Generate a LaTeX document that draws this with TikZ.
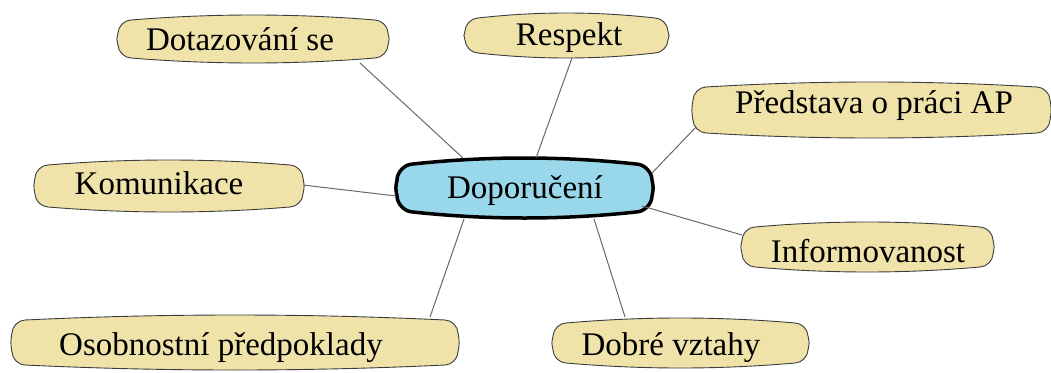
\documentclass[tikz,border=0pt]{standalone}
\usepackage{fontspec}
\setmainfont{Liberation Serif}
\usetikzlibrary{calc}
\definecolor{boxfill}{RGB}{239,227,170}
\definecolor{boxline}{RGB}{60,60,60}
\definecolor{mainfill}{RGB}{152,216,234}
\definecolor{conn}{RGB}{105,105,105}
\def\blobr{13pt}
\def\blobb{5pt}
\newcommand{\blob}[2]{%
  \path[#2] let \p1=(#1.south west), \p2=(#1.north east), \n1={(\x2-\x1-2*\blobr)/3} in
  (\x1,{\y1+\blobb+\blobr})
  .. controls ({\x1-1.5pt},{\y1+\blobb+\blobr+8pt}) and ({\x1-1.5pt},{\y2-\blobb-\blobr-8pt}) .. (\x1,{\y2-\blobb-\blobr})
  .. controls (\x1,{\y2-\blobb-0.5*\blobr}) and ({\x1+0.5*\blobr},{\y2-\blobb}) .. ({\x1+\blobr},{\y2-\blobb})
  .. controls ({\x1+\blobr+\n1},{\y2+\blobb/3}) and ({\x2-\blobr-\n1},{\y2+\blobb/3}) .. ({\x2-\blobr},{\y2-\blobb})
  .. controls ({\x2-0.5*\blobr},{\y2-\blobb}) and (\x2,{\y2-\blobb-0.5*\blobr}) .. (\x2,{\y2-\blobb-\blobr})
  .. controls ({\x2+1.5pt},{\y2-\blobb-\blobr-8pt}) and ({\x2+1.5pt},{\y1+\blobb+\blobr+8pt}) .. (\x2,{\y1+\blobb+\blobr})
  .. controls (\x2,{\y1+\blobb+0.5*\blobr}) and ({\x2-0.5*\blobr},{\y1+\blobb}) .. ({\x2-\blobr},{\y1+\blobb})
  .. controls ({\x2-\blobr-\n1},{\y1-\blobb/3}) and ({\x1+\blobr+\n1},{\y1-\blobb/3}) .. ({\x1+\blobr},{\y1+\blobb})
  .. controls ({\x1+0.5*\blobr},{\y1+\blobb}) and (\x1,{\y1+\blobb+0.5*\blobr}) .. cycle;
}
\tikzset{
  area/.style={rectangle, draw=none, inner sep=0pt, outer sep=0pt},
  ybox/.style={fill=boxfill, draw=boxline, line width=0.9pt},
  mbox/.style={fill=mainfill, draw=black, line width=3.5pt},
  txt/.style={inner sep=0pt, anchor=base, font=\fontsize{33}{40}\selectfont},
  link/.style={draw=conn, line width=1pt}
}
\begin{document}
\begin{tikzpicture}[x=1pt,y=-1pt]
\useasboundingbox (0,0) rectangle (1051,372);
\node[area, minimum width=270pt, minimum height=48pt] (dot) at (253,39) {};
\node[area, minimum width=203pt, minimum height=45pt] (res) at (566.5,35.5) {};
\node[area, minimum width=357pt, minimum height=56pt] (pre) at (871.5,110) {};
\node[area, minimum width=268pt, minimum height=52pt] (kom) at (169,186) {};
\node[area, minimum width=255pt, minimum height=60pt] (dop) at (524.5,188) {};
\node[area, minimum width=251pt, minimum height=50pt] (inf) at (867.5,247) {};
\node[area, minimum width=446pt, minimum height=55pt] (oso) at (235,342.5) {};
\node[area, minimum width=255pt, minimum height=50pt] (dob) at (680.5,343) {};
\blob{dot}{ybox}
\blob{res}{ybox}
\blob{pre}{ybox}
\blob{kom}{ybox}
\blob{inf}{ybox}
\blob{oso}{ybox}
\blob{dob}{ybox}
\def\blobr{16pt}
\def\blobb{6pt}
\blob{dop}{mbox}
\draw[link] ($(dot.south west)+(242,0)$) -- ($(dop.north west)+(66,0)$);
\draw[link] ($(res.south west)+(107,0)$) -- ($(dop.north west)+(139,0)$);
\draw[link] ($(pre.south west)+(3,-11)$) -- ($(dop.north east)+(0,15)$);
\draw[link] ($(kom.east)+(0,-1)$) -- ($(dop.west)+(-1,8)$);
\draw[link] ($(inf.north west)+(0,13)$) -- ($(dop.south east)+(-10,-12)$);
\draw[link] ($(oso.north west)+(418,2)$) -- ($(dop.south west)+(67,1)$);
\draw[link] ($(dob.north west)+(72,-1)$) -- ($(dop.south west)+(197,1)$);
\node[txt] (tdot) at (240,50) {Dotazování se};
\node[txt] (tres) at (569,45) {Respekt};
\node[txt] (tpre) at (874,113) {Představa o práci AP};
\node[txt] (tkom) at (159,194) {Komunikace};
\node[txt] (tdop) at (525,198) {Doporučení};
\node[txt] (tinf) at (868,262) {Informovanost};
\node[txt] (toso) at (221,355) {Osobnostní předpoklady};
\node[txt] (tdob) at (671,355) {Dobré vztahy};
\end{tikzpicture}
\end{document}
